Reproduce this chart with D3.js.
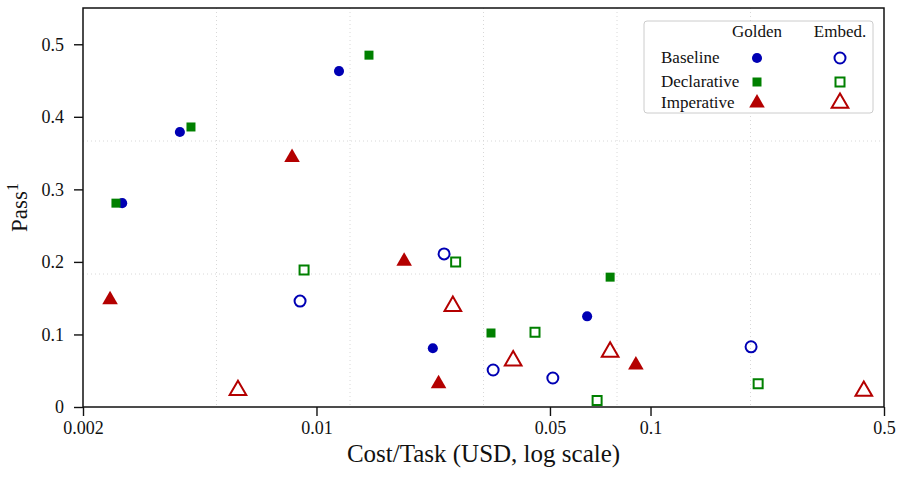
<!DOCTYPE html>
<meta charset="utf-8">
<style>
  body { margin: 0; background: white; }
  text { font-family: "Liberation Serif", "DejaVu Serif", serif; fill: #111; }
</style>
<body>
<div id="chart"></div>
<script src="https://cdnjs.cloudflare.com/ajax/libs/d3/7.8.5/d3.min.js"></script>
<script>

// ticks
var xTicks = [0.002, 0.01, 0.05, 0.1, 0.5];
var xTickLabels = ["0.002", "0.01", "0.05", "0.1", "0.5"];
var yTicks = [0, 0.1, 0.2, 0.3, 0.4, 0.5];
var yTickLabels = ["0", "0.1", "0.2", "0.3", "0.4", "0.5"];

// series: [cost per task, pass^1]
var goldenBaseline = [[0.00262, 0.281], [0.0039, 0.379], [0.01168, 0.463], [0.0223, 0.081], [0.0646, 0.125]];
var embedBaseline = [[0.00893, 0.146], [0.0241, 0.211], [0.0338, 0.051], [0.051, 0.040], [0.200, 0.083]];
var goldenDeclarative = [[0.00251, 0.281], [0.00421, 0.386], [0.01436, 0.485], [0.0333, 0.102], [0.0757, 0.179]];
var embedDeclarative = [[0.00918, 0.189], [0.0261, 0.200], [0.0451, 0.103], [0.0692, 0.009], [0.210, 0.032]];
var goldenImperative = [[0.00241, 0.148], [0.00845, 0.344], [0.0183, 0.201], [0.0232, 0.032], [0.0904, 0.058]];
var embedImperative = [[0.00582, 0.023], [0.0256, 0.139], [0.0388, 0.064], [0.0757, 0.076], [0.435, 0.022]];

var rowNames = ["Baseline", "Declarative", "Imperative"];
var colNames = ["Golden", "Embed."];

var blue = "#0000b4", green = "#008000", red = "#b40000";

var W = 909, H = 499;
var margin = {top: 8, right: 25, bottom: 92, left: 83},
    width = W - margin.left - margin.right,
    height = H - margin.top - margin.bottom;

var svg = d3.select("#chart").append("svg")
    .attr("width", W).attr("height", H);
var g = svg.append("g")
    .attr("transform", "translate(" + margin.left + "," + margin.top + ")");

var x = d3.scaleLog().domain([0.002, 0.5]).range([0, width]);
var y = d3.scaleLinear().domain([0, 0.55]).range([height, 0]);

// dotted grid, splitting the box in 6 columns / 3 rows
var lx0 = Math.log10(0.002), lx1 = Math.log10(0.5);
g.selectAll(".vgrid").data(d3.range(1, 6)).enter().append("line")
    .attr("x1", function(i) { return x(Math.pow(10, lx0 + (lx1 - lx0) * i / 6)); })
    .attr("x2", function(i) { return x(Math.pow(10, lx0 + (lx1 - lx0) * i / 6)); })
    .attr("y1", 0).attr("y2", height)
    .attr("stroke", "#d8d8d8").attr("stroke-width", 1).attr("stroke-dasharray", "1,3");
g.selectAll(".hgrid").data([1, 2]).enter().append("line")
    .attr("y1", function(i) { return y(0.55 * i / 3); })
    .attr("y2", function(i) { return y(0.55 * i / 3); })
    .attr("x1", 0).attr("x2", width)
    .attr("stroke", "#d8d8d8").attr("stroke-width", 1).attr("stroke-dasharray", "1,3");

// axes
var xAxis = g.append("g")
    .attr("transform", "translate(0," + height + ")")
    .call(d3.axisBottom(x).tickValues(xTicks)
      .tickFormat(function(d, i) { return xTickLabels[i]; })
      .tickSize(9).tickPadding(5));
var yAxis = g.append("g")
    .call(d3.axisLeft(y).tickValues(yTicks)
      .tickFormat(function(d, i) { return yTickLabels[i]; })
      .tickSize(9).tickPadding(10));
[xAxis, yAxis].forEach(function(a) {
  a.select(".domain").remove();
  a.selectAll(".tick line").attr("stroke", "#111").attr("stroke-width", 1.4);
  a.selectAll("text").style("font-family", "Liberation Serif").style("font-size", "18px").attr("fill", "#111");
});

// frame
g.append("rect").attr("x", 0).attr("y", 0).attr("width", width).attr("height", height)
    .attr("fill", "none").attr("stroke", "#111").attr("stroke-width", 1.5);

// markers
function sym(type, size) { return d3.symbol().type(type).size(size)(); }

function drawSeries(data, type, size, color, filled) {
  g.append("g").selectAll("path").data(data).enter().append("path")
    .attr("d", sym(type, size))
    .attr("transform", function(d) { return "translate(" + x(d[0]) + "," + y(d[1]) + ")"; })
    .attr("fill", filled ? color : "none")
    .attr("stroke", filled ? "none" : color)
    .attr("stroke-width", filled ? 0 : 2);
}

var styles = [
  {golden: goldenBaseline, embed: embedBaseline, type: d3.symbolCircle, fs: 80, os: 95, color: blue},
  {golden: goldenDeclarative, embed: embedDeclarative, type: d3.symbolSquare, fs: 81, os: 81, color: green},
  {golden: goldenImperative, embed: embedImperative, type: d3.symbolTriangle, fs: 105, os: 120, color: red}
];

styles.forEach(function(s) {
  drawSeries(s.embed, s.type, s.os, s.color, false);
  drawSeries(s.golden, s.type, s.fs, s.color, true);
});

// axis titles
g.append("text")
    .attr("x", width / 2).attr("y", height + 55)
    .attr("text-anchor", "middle")
    .style("font-size", "25px")
    .text("Cost/Task (USD, log scale)");

var yl = svg.append("text")
    .attr("transform", "translate(27," + (margin.top + height / 2) + ") rotate(-90)")
    .attr("text-anchor", "middle")
    .style("font-size", "23px");
yl.append("tspan").text("Pass");
yl.append("tspan").attr("dy", -9).style("font-size", "16px").text("1");

// legend
var lg = svg.append("g").attr("transform", "translate(644,21)");
lg.append("rect").attr("width", 229).attr("height", 92).attr("rx", 3)
    .attr("fill", "white").attr("stroke", "#cccccc").attr("stroke-width", 1);
var colX = [113, 196];
colNames.forEach(function(c, i) {
  lg.append("text").attr("x", colX[i]).attr("y", 16).attr("text-anchor", "middle")
    .style("font-size", "17px").text(c);
});
var rowY = [37, 61, 82];
styles.forEach(function(s, i) {
  lg.append("text").attr("x", 17).attr("y", rowY[i] + 5).style("font-size", "17px").text(rowNames[i]);
  lg.append("path").attr("d", sym(s.type, s.fs))
    .attr("transform", "translate(" + colX[0] + "," + rowY[i] + ")")
    .attr("fill", s.color);
  lg.append("path").attr("d", sym(s.type, s.os))
    .attr("transform", "translate(" + colX[1] + "," + rowY[i] + ")")
    .attr("fill", "none").attr("stroke", s.color).attr("stroke-width", 2);
});

</script>
</body>
